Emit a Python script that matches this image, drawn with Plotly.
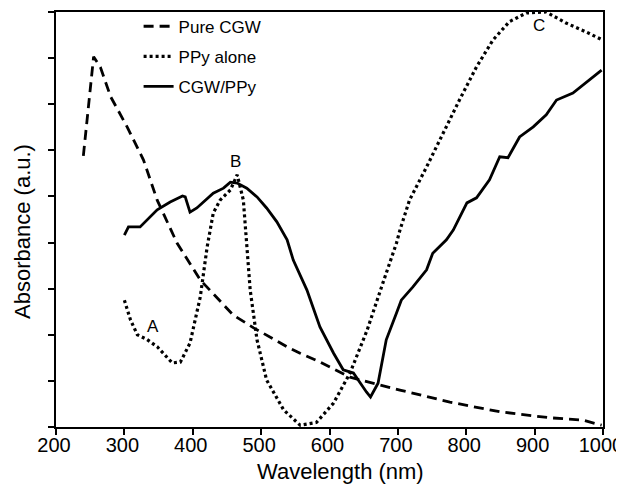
import plotly.graph_objects as go

# wavelength (nm) / absorbance (a.u.)
cgw_x = [240, 255, 265, 280, 304, 328, 348, 377, 411, 459, 489, 538, 557, 586,
         630, 703, 776, 849, 922, 970, 998]
cgw_y = [5.88, 8.03, 7.8, 7.16, 6.51, 5.79, 4.92, 3.99, 3.19, 2.43, 2.15, 1.74, 1.6,
         1.41, 1.08, 0.80, 0.54, 0.33, 0.20, 0.15, 0.04]

ppy_x = [300, 309, 319, 333, 348, 370, 382, 396, 411, 421, 430, 440, 455, 465,
         474, 479, 484, 494, 508, 533, 557, 581, 606, 630, 655, 678, 698, 703,
         717, 742, 766, 790, 815, 839, 863, 888, 917, 946, 975, 997]
ppy_y = [2.75, 2.32, 2.0, 1.9, 1.74, 1.39, 1.41, 1.82, 2.82, 3.9, 4.64, 4.92, 5.14,
         5.47, 4.92, 3.95, 2.97, 1.89, 1.02, 0.37, 0.04, 0.10, 0.52, 1.17, 2.1,
         3.12, 3.99, 4.27, 4.92, 5.64, 6.38, 7.09, 7.81, 8.39, 8.79, 8.98, 9.0,
         8.76, 8.57, 8.41]

mix_x = [300, 306, 323, 348, 367, 385, 389, 396, 406, 416, 430, 445, 455, 465,
         479, 494, 508, 523, 538, 547, 567, 586, 606, 620, 635, 654, 660, 671,
         683, 698, 705, 722, 742, 751, 771, 781, 801, 815, 834, 849, 861, 878,
         898, 917, 932, 956, 971, 985, 998]
mix_y = [4.16, 4.34, 4.34, 4.71, 4.88, 5.01, 4.99, 4.66, 4.75, 4.88, 5.07, 5.18,
         5.31, 5.29, 5.18, 4.99, 4.75, 4.45, 4.06, 3.62, 2.97, 2.17, 1.6, 1.24,
         1.17, 0.76, 0.65, 0.95, 1.89, 2.47, 2.75, 3.04, 3.41, 3.77, 4.06, 4.27,
         4.86, 4.97, 5.36, 5.86, 5.84, 6.29, 6.51, 6.77, 7.09, 7.24, 7.42, 7.59,
         7.74]

peak_labels = ['A', 'B', 'C']
peak_x = [342, 463, 907]
peak_y = [2.19, 5.75, 8.7]

FONT = 'Arial, Liberation Sans, sans-serif'

fig = go.Figure()

fig.add_trace(go.Scatter(x=cgw_x, y=cgw_y, mode='lines', name='Pure CGW',
                         legendgroup='a',
                         line=dict(color='black', width=2.8, dash='10px,6px')))
fig.add_trace(go.Scatter(x=ppy_x, y=ppy_y, mode='lines', name='PPy alone',
                         legendgroup='b',
                         line=dict(color='black', width=3.2, dash='3px,3px')))
fig.add_trace(go.Scatter(x=mix_x, y=mix_y, mode='lines', name='CGW/PPy',
                         legendgroup='c',
                         line=dict(color='black', width=2.8)))

for lab, px, py in zip(peak_labels, peak_x, peak_y):
    fig.add_annotation(x=px, y=py, text=lab, showarrow=False,
                       font=dict(size=17, color='black', family=FONT))

# axis titles as annotations, placed like the original
fig.add_annotation(xref='paper', yref='paper', x=0, y=0.47, xshift=-33,
                   xanchor='center', yanchor='middle',
                   text='Absorbance (a.u.)', textangle=-90, showarrow=False,
                   font=dict(size=22, color='black', family=FONT))
fig.add_annotation(xref='paper', yref='paper', x=0.52, y=0, yshift=-44,
                   xanchor='center', yanchor='middle',
                   text='Wavelength (nm)', showarrow=False,
                   font=dict(size=22, color='black', family=FONT))

# page body has an 8px margin, so the figure is 8px smaller than the window
fig.update_layout(
    width=616, height=478,
    margin=dict(l=48, r=21, t=4, b=59, autoexpand=False),
    paper_bgcolor='white', plot_bgcolor='white',
    font=dict(family=FONT, color='black'),
    showlegend=True,
    legend=dict(x=0.151, y=1.008, xanchor='left', yanchor='top',
                bgcolor='rgba(0,0,0,0)', font=dict(size=17),
                tracegroupgap=5),
)

fig.update_xaxes(range=[200, 1000], dtick=100, showgrid=False, zeroline=False,
                 showline=True, linecolor='black', linewidth=2, mirror=True,
                 ticks='outside', ticklen=6, tickwidth=1.5, tickcolor='black',
                 tickfont=dict(size=20), ticklabelstandoff=-7, ticklabelshift=-2,
                 ticklabeloverflow='allow', automargin=False)
fig.update_yaxes(range=[0, 9], dtick=1, showgrid=False, zeroline=False,
                 showline=True, linecolor='black', linewidth=2, mirror=True,
                 ticks='outside', ticklen=6, tickwidth=1.5, tickcolor='black',
                 showticklabels=False, automargin=False)

fig.write_html("out.html")
